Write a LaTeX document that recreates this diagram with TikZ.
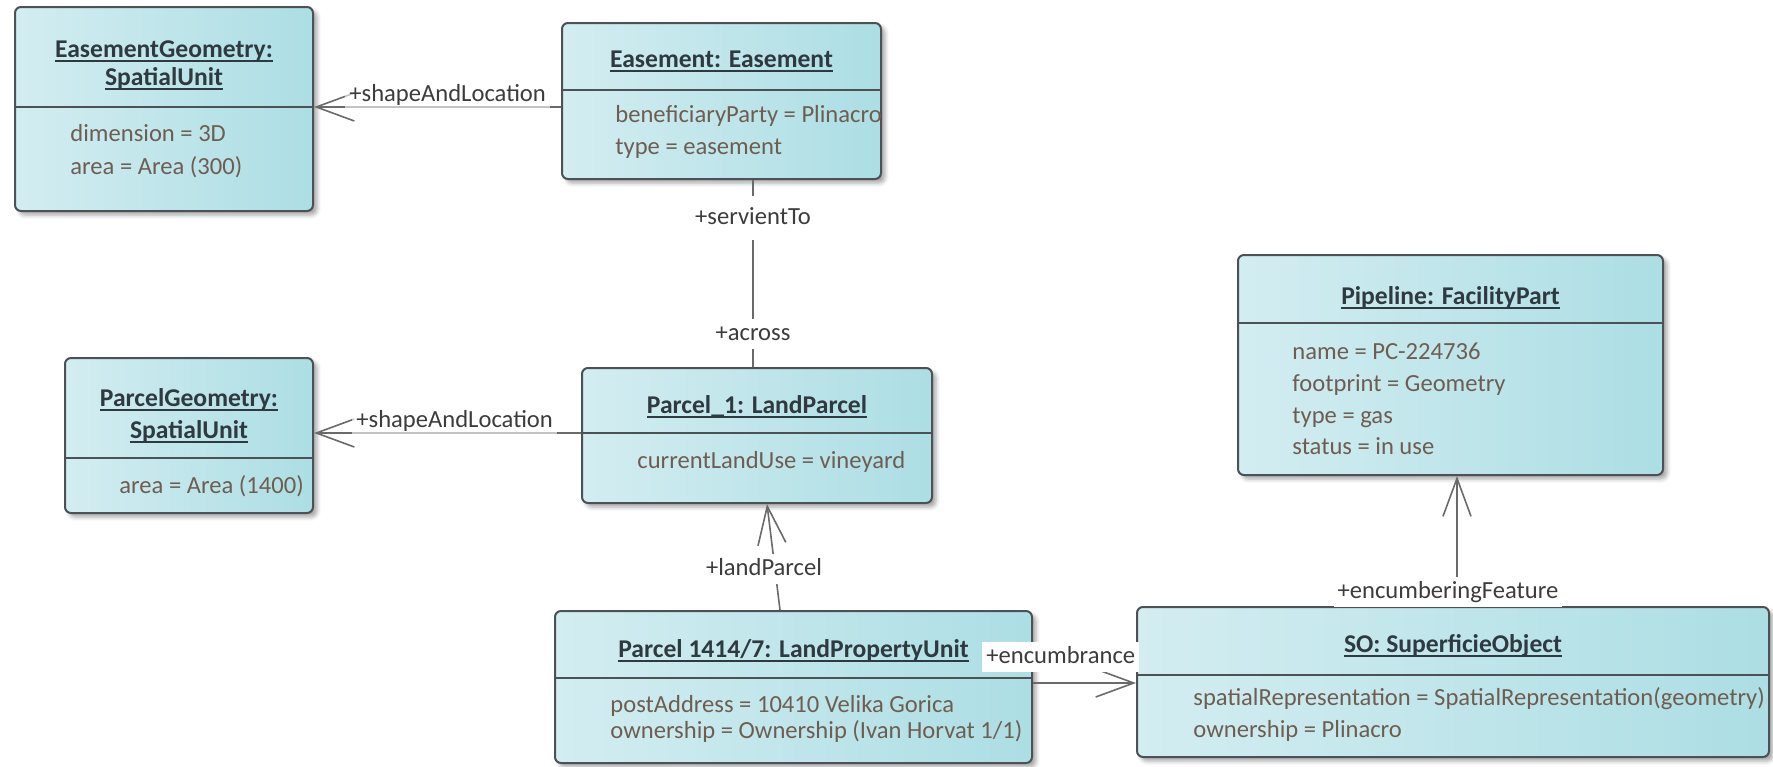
\documentclass[tikz,border=0pt]{standalone}
\usepackage{fontspec}
\setmainfont{Carlito}
\usetikzlibrary{arrows.meta,fit,shadows.blur}

\definecolor{boxleft}{HTML}{D3EDF1}
\definecolor{boxmid}{HTML}{E4F5F7}
\definecolor{boxright}{HTML}{ACDEE4}
\definecolor{boxedge}{HTML}{4B5154}
\definecolor{titlecol}{HTML}{2E3A40}
\definecolor{attrcol}{HTML}{6E5E52}
\definecolor{rolecol}{HTML}{3C3C3C}
\definecolor{linkcol}{HTML}{6A6A6A}

% underlined object name (UML instance title)
\newlength\ulinedwd
\newcommand\ulined[1]{\settowidth\ulinedwd{#1}\rlap{#1}\rule[-2.6pt]{\ulinedwd}{1pt}}
\newcommand\umltitlefont{\fontsize{12.8pt}{15pt}\selectfont\bfseries}
\newcommand\umlattrfont{\fontsize{12.3pt}{15pt}\selectfont}

\begin{document}
\begin{tikzpicture}[x=0.5pt,y=-0.5pt,
  umlbox/.style={draw=boxedge, line width=1pt, rounded corners=3pt,
    left color=boxleft, middle color=boxmid, right color=boxright, inner sep=0pt,
    blur shadow={shadow xshift=2pt, shadow yshift=-2pt, shadow opacity=35, shadow blur radius=2pt}},
  sepline/.style={draw=boxedge, line width=0.9pt},
  title/.style={font=\umltitlefont, text=titlecol, anchor=base, inner sep=0pt},
  attr/.style={font=\umlattrfont, text=attrcol, anchor=base west, inner sep=0pt},
  role/.style={font=\umlattrfont, text=rolecol, anchor=base, text height=9pt, text depth=3pt,
    inner xsep=2pt, inner ysep=1.5pt, fill=white},
  softrole/.style={role, anchor=base west, fill opacity=0.6, text opacity=1},
  assoc/.style={draw=linkcol, line width=0.8pt},
  navto/.style={assoc, -{Straight Barb[length=19pt,width=14pt]}}
]
\useasboundingbox (0,0) rectangle (1773,766);

% ---------- EasementGeometry: SpatialUnit ----------
\node[umlbox, fit={(15,7) (313,211)}] (eg) {};
\draw[sepline] (eg.west |- 0,107) -- (eg.east |- 0,107);
\node[title] (eg-t1) at (eg.center |- 0,57) {\ulined{EasementGeometry:}};
\node[title] (eg-t2) at (eg.center |- 0,85) {\ulined{SpatialUnit}};
\node[attr] (eg-a1) at (70,141) {dimension = 3D};
\node[attr] (eg-a2) at (70,174) {area = Area (300)};

% ---------- Easement: Easement ----------
\node[umlbox, fit={(562,23) (881,179)}] (es) {};
\draw[sepline] (es.west |- 0,90) -- (es.east |- 0,90);
\node[title] (es-t) at (es.center |- 0,67) {\ulined{Easement: Easement}};
\node[attr] (es-a1) at (615,122) {beneficiaryParty = Plinacro};
\node[attr] (es-a2) at (615,154) {type = easement};

% ---------- ParcelGeometry: SpatialUnit ----------
\node[umlbox, fit={(65,358) (313,513)}] (pg) {};
\draw[sepline] (pg.west |- 0,458) -- (pg.east |- 0,458);
\node[title] (pg-t1) at (pg.center |- 0,406) {\ulined{ParcelGeometry:}};
\node[title] (pg-t2) at (pg.center |- 0,438) {\ulined{SpatialUnit}};
\node[attr] (pg-a1) at (119,493) {area = Area (1400)};

% ---------- Parcel_1: LandParcel ----------
\node[umlbox, fit={(582,368) (932,503)}] (p1) {};
\draw[sepline] (p1.west |- 0,433) -- (p1.east |- 0,433);
\node[title] (p1-t) at (p1.center |- 0,413) {\ulined{Parcel\_1: LandParcel}};
\node[attr] (p1-a1) at (637,468) {currentLandUse = vineyard};

% ---------- Pipeline: FacilityPart ----------
\node[umlbox, fit={(1238,255) (1663,475)}] (pl) {};
\draw[sepline] (pl.west |- 0,323) -- (pl.east |- 0,323);
\node[title] (pl-t) at (pl.center |- 0,304) {\ulined{Pipeline: FacilityPart}};
\node[attr] (pl-a1) at (1292,359) {name = PC-224736};
\node[attr] (pl-a2) at (1292,391) {footprint = Geometry};
\node[attr] (pl-a3) at (1292,423) {type = gas};
\node[attr] (pl-a4) at (1292,454) {status = in use};

% ---------- Parcel 1414/7: LandPropertyUnit ----------
\node[umlbox, fit={(555,611) (1032,763)}] (lpu) {};
\draw[sepline] (lpu.west |- 0,678) -- (lpu.east |- 0,678);
\node[title] (lpu-t) at (lpu.center |- 0,657) {\ulined{Parcel 1414/7: LandPropertyUnit}};
\node[attr] (lpu-a1) at (610,712) {postAddress = 10410 Velika Gorica};
\node[attr] (lpu-a2) at (610,738) {ownership = Ownership (Ivan Horvat 1/1)};

% ---------- SO: SuperficieObject ----------
\node[umlbox, fit={(1137,607) (1769,757)}] (so) {};
\draw[sepline] (so.west |- 0,675) -- (so.east |- 0,675);
\node[title] (so-t) at (so.center |- 0,652) {\ulined{SO: SuperficieObject}};
\node[attr] (so-a1) at (1193,705) {spatialRepresentation = SpatialRepresentation(geometry)};
\node[attr] (so-a2) at (1193,737) {ownership = Plinacro};

% ---------- associations ----------
\draw[navto] (es.west |- 0,107) -- (eg.east |- 0,107);
\draw[navto] (p1.west |- 0,433) -- (pg.east |- 0,433);
\draw[assoc] ([xshift=-2pt]p1.north) -- ([xshift=-2pt]p1.north |- es.south);
\draw[navto] ([xshift=-6.75pt]lpu.north) -- ([xshift=5pt]p1.south);
\draw[navto] (lpu.east |- 0,683) -- (so.west |- 0,683);
\draw[navto] ([xshift=2pt]so.north) -- ([xshift=2pt]so.north |- pl.south);

% ---------- role names ----------
\node[softrole] (r-esg) at (345,101) {+shapeAndLocation};
\node[softrole] (r-pgl) at (352,427) {+shapeAndLocation};
\node[role, inner ysep=5pt] (r-serv) at (753,224) {+servientTo};
\node[role] (r-across) at (753,340) {+across};
\node[role] (r-land) at (764,575) {+landParcel};
\node[role, anchor=base west] (r-enc) at (982,663) {+encumbrance};
\node[role] (r-feat) at (1448,598) {+encumberingFeature};
\end{tikzpicture}
\end{document}
